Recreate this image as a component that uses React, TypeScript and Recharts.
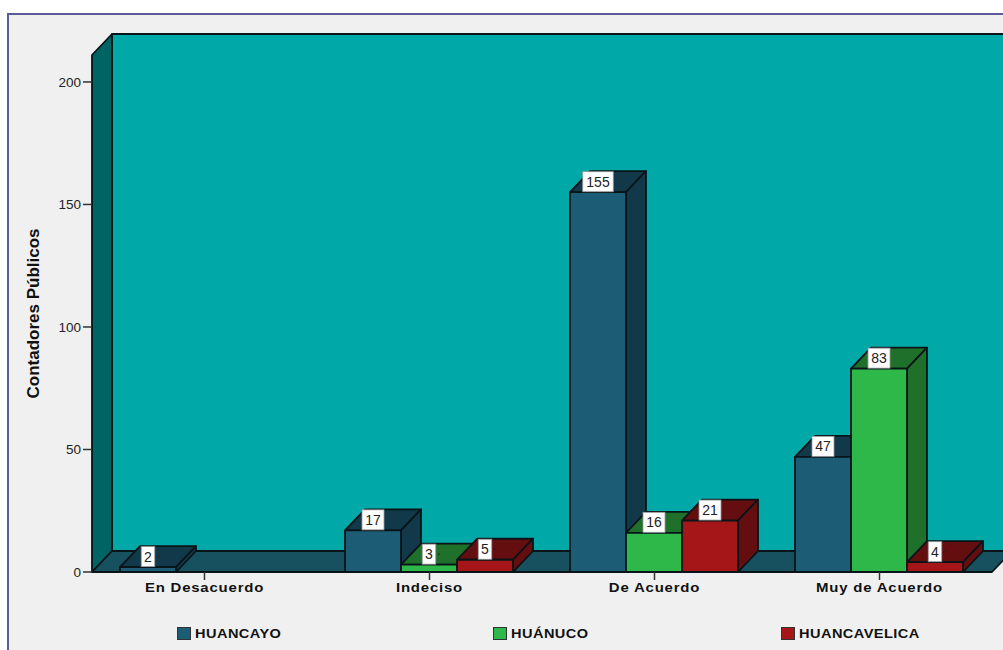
import React from "react";
import { BarChart, Bar, XAxis, YAxis, Legend, LabelList, ReferenceArea } from "recharts";

const categories = ["En Desacuerdo", "Indeciso", "De Acuerdo", "Muy de Acuerdo"];
const huancayo = [2, 17, 155, 47];
const huanuco = [null, 3, 16, 83];
const huancavelica = [null, 5, 21, 4];
const yTicks = [0, 50, 100, 150, 200];

const rows = categories.map((name, i) => ({
  name,
  HUANCAYO: huancayo[i],
  "HUÁNUCO": huanuco[i],
  HUANCAVELICA: huancavelica[i],
}));

const DEPTH_X = 20;
const DEPTH_Y = 21;
const OUTLINE = "#081418";
const FONT = "'Liberation Sans', Arial, sans-serif";

const seriesStyles = [
  { key: "HUANCAYO", front: "#1c5d75", shade: "#12394a" },
  { key: "HUÁNUCO", front: "#2fb84a", shade: "#1f702b" },
  { key: "HUANCAVELICA", front: "#a51618", shade: "#640e10" },
];

// Extruded bar: front face plus a top and a side parallelogram.
function Box3D(props: any) {
  const { x, y, width, height, fill, shade } = props;
  if (height == null || height <= 0) return null;
  const r = x + width;
  const b = y + height;
  const common = { stroke: OUTLINE, strokeWidth: 1.8, strokeLinejoin: "round" as const };
  return (
    <g>
      <polygon
        points={`${x},${y} ${x + DEPTH_X},${y - DEPTH_Y} ${r + DEPTH_X},${y - DEPTH_Y} ${r},${y}`}
        fill={shade}
        {...common}
      />
      <polygon
        points={`${r},${y} ${r + DEPTH_X},${y - DEPTH_Y} ${r + DEPTH_X},${b - DEPTH_Y} ${r},${b}`}
        fill={shade}
        {...common}
      />
      <rect x={x} y={y} width={width} height={height} fill={fill} {...common} />
    </g>
  );
}

// Back wall, left wall and floor of the chart box.
function Room(props: any) {
  const { x, y, width, height } = props;
  const r = x + width;
  const b = y + height;
  const common = { stroke: OUTLINE, strokeWidth: 1.8, strokeLinejoin: "round" as const };
  return (
    <g>
      <rect x={x + DEPTH_X} y={y - DEPTH_Y} width={width + 20} height={height} fill="#00a8a8" {...common} />
      <polygon
        points={`${x},${y} ${x + DEPTH_X},${y - DEPTH_Y} ${x + DEPTH_X},${b - DEPTH_Y} ${x},${b}`}
        fill="#006464"
        {...common}
      />
      <polygon
        points={`${x},${b} ${x + DEPTH_X},${b - DEPTH_Y} ${r + DEPTH_X},${b - DEPTH_Y} ${r},${b}`}
        fill="#17505f"
        {...common}
      />
    </g>
  );
}

// White value tag sitting on the front top edge of a bar.
function ValueTag(props: any) {
  const { x, y, width, value } = props;
  if (value == null) return null;
  const text = String(value);
  const w = 8.5 * text.length + 5;
  const h = 20;
  const cx = x + width / 2;
  const top = y - h - 0.5;
  return (
    <g>
      <rect x={cx - w / 2} y={top} width={w} height={h} fill="#ffffff" stroke="#9a9a9a" strokeWidth={0.8} />
      <text x={cx} y={top + 15} textAnchor="middle" fontFamily={FONT} fontSize={14} fill="#222222">
        {text}
      </text>
      {text.length === 1 && (
        <line x1={cx + w / 2 + 2} x2={cx + w / 2 + 4} y1={top + 10} y2={top + 10} stroke="#222222" strokeWidth={1} />
      )}
    </g>
  );
}

const legendOffsets = [177, 493, 781];

function KeyRow(props: any) {
  const items = props.payload || [];
  return (
    <div style={{ position: "relative", width: 1003, height: 24 }}>
      {seriesStyles.map((s, i) => {
        const item = items.find((entry: any) => entry.value === s.key);
        if (!item) return null;
        return (
          <div key={s.key} style={{ position: "absolute", left: legendOffsets[i], top: 0, display: "flex", alignItems: "center", height: 24 }}>
            <span
              style={{
                display: "inline-block",
                width: 12,
                height: 11,
                background: item.color,
                border: "1px solid #333333",
                marginRight: 3.5,
              }}
            />
            <span
              style={{
                display: "inline-block",
                fontFamily: FONT,
                fontWeight: 700,
                fontSize: 13,
                letterSpacing: 0.4,
                color: "#111111",
                whiteSpace: "nowrap",
                transform: "scaleX(1.12)",
                transformOrigin: "left center",
              }}
            >
              {item.value}
            </span>
          </div>
        );
      })}
    </div>
  );
}

// Category names are set a little wider than the regular bold face.
function CategoryTick(props: any) {
  const { x, y, payload } = props;
  return (
    <text
      transform={`translate(${x},${y + 10}) scale(1.15,1)`}
      textAnchor="middle"
      fontFamily={FONT}
      fontWeight={700}
      fontSize={13}
      letterSpacing={0.7}
      fill="#111111"
    >
      {payload.value}
    </text>
  );
}

export default function App() {
  return (
    <div style={{ position: "absolute", left: 0, top: 0, width: 1003, height: 650, overflow: "hidden", background: "#ffffff" }}>
      <div
        style={{
          position: "absolute",
          left: 7,
          top: 13,
          width: 1100,
          height: 800,
          background: "#f0f0f0",
          border: "2px solid #5b5b99",
        }}
      />
      <div style={{ position: "absolute", left: 0, top: 0 }}>
        <BarChart
          width={1003}
          height={650}
          data={rows}
          margin={{ top: 55, right: 11, bottom: 14, left: 8 }}
          barGap={0}
          barCategoryGap={28}
        >
          <ReferenceArea y1={0} y2={211} ifOverflow="visible" shape={<Room />} />
          <XAxis
            dataKey="name"
            height={40}
            axisLine={false}
            tickSize={8}
            tickLine={{ stroke: "#333333", strokeWidth: 1.5 }}
            tick={<CategoryTick />}
            interval={0}
          />
          <YAxis
            width={84}
            domain={[0, 211]}
            ticks={yTicks}
            allowDataOverflow
            axisLine={false}
            tickSize={9}
            tickLine={{ stroke: "#333333", strokeWidth: 1.5 }}
            tick={{ fontFamily: FONT, fontSize: 13.5, fill: "#222222" }}
            label={{
              value: "Contadores Públicos",
              angle: -90,
              position: "insideLeft",
              offset: 0,
              dx: 25,
              dy: 85,
              style: { fontFamily: "'Liberation Sans Narrow', " + FONT, fontWeight: 700, fontSize: 17, fill: "#111111" },
            }}
          />
          <Legend
            verticalAlign="bottom"
            content={<KeyRow />}
            wrapperStyle={{ position: "absolute", left: 0, top: 621, width: 1003, height: 24 }}
          />
          {seriesStyles.map((s) => (
            <Bar
              key={s.key}
              dataKey={s.key}
              fill={s.front}
              isAnimationActive={false}
              shape={<Box3D shade={s.shade} />}
            >
              <LabelList dataKey={s.key} content={<ValueTag />} />
            </Bar>
          ))}
        </BarChart>
      </div>
    </div>
  );
}
